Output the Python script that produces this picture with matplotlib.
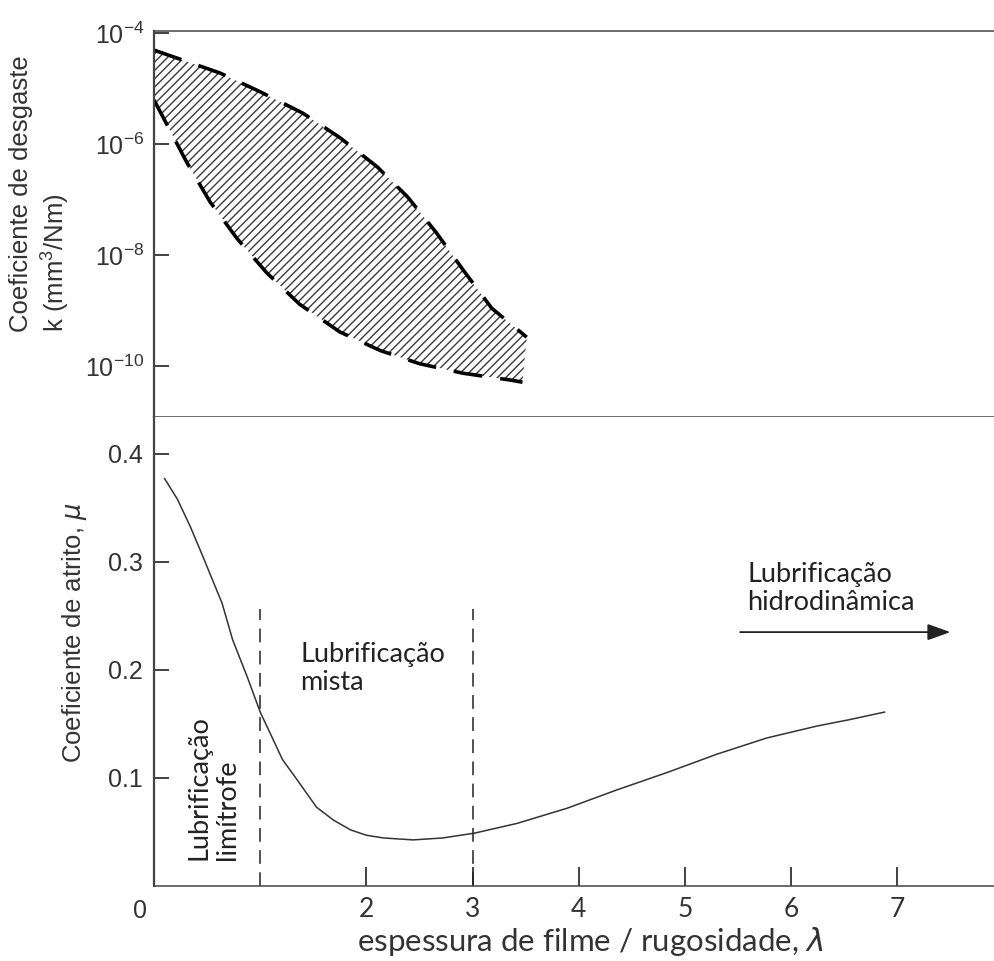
import matplotlib
matplotlib.use("Agg")
import matplotlib.pyplot as plt

# faixa do coeficiente de desgaste (limite superior e inferior)
lam_sup = [0.0, 0.62, 1.0, 1.40, 1.75, 2.10, 2.39, 2.66, 2.91, 3.18, 3.51]
k_sup = [4.9e-5, 1.9e-5, 8.7e-6, 3.6e-6, 1.3e-6, 3.9e-7, 1.1e-7, 2.5e-8, 5.4e-9, 1.1e-9, 3.3e-10]
lam_inf = [0.0, 0.31, 0.53, 0.78, 1.06, 1.37, 1.75, 2.13, 2.50, 2.91, 3.35, 3.47]
k_inf = [6.2e-6, 4.6e-7, 8.9e-8, 2.0e-8, 4.8e-9, 1.3e-9, 4.1e-10, 1.9e-10, 1.1e-10, 7.4e-11, 5.6e-11, 5.1e-11]

# coeficiente de atrito
lam_mu = [0.10, 0.22, 0.34, 0.46, 0.56, 0.64, 0.74, 0.88, 1.0, 1.11, 1.21, 1.35, 1.53, 1.69,
          1.85, 2.0, 2.16, 2.44, 2.72, 3.02, 3.42, 3.89, 4.36, 4.83, 5.30, 5.77, 6.24, 6.55, 6.88]
mu = [0.377, 0.358, 0.333, 0.305, 0.281, 0.262, 0.228, 0.193, 0.161, 0.138, 0.117, 0.098, 0.073,
      0.061, 0.052, 0.047, 0.0445, 0.0427, 0.0445, 0.049, 0.058, 0.072, 0.089, 0.105, 0.122,
      0.137, 0.148, 0.154, 0.161]

limites = [1, 3]
xticks = [2, 3, 4, 5, 6, 7]
yticks_mu = [0.1, 0.2, 0.3, 0.4]
yticks_k = [1e-10, 1e-8, 1e-6, 1e-4]
ytick_k_labels = [r'$\mathregular{10^{-10}}$', r'$\mathregular{10^{-8}}$',
                  r'$\mathregular{10^{-6}}$', r'$\mathregular{10^{-4}}$']

plt.rcParams['font.family'] = ['Liberation Sans', 'DejaVu Sans']
plt.rcParams['mathtext.fontset'] = 'custom'
plt.rcParams['mathtext.rm'] = 'Liberation Sans'
plt.rcParams['hatch.linewidth'] = 1.0

txt = '#333333'
spine_c = '#444444'
calibri = ['Lato', 'DejaVu Sans']

fig = plt.figure(figsize=(9.95, 9.61), dpi=100)
ax1 = fig.add_axes([0.1548, 0.5661, 0.8452, 0.4017])
ax2 = fig.add_axes([0.1548, 0.0780, 0.8452, 0.4880])

# --- painel superior: desgaste
ax1.set_yscale('log')
ax1.fill(lam_sup + lam_inf[::-1], k_sup + k_inf[::-1], facecolor='none',
         edgecolor='#3a3a3a', hatch='////', linewidth=0)
ax1.plot(lam_sup, k_sup, color='black', lw=2.6, dashes=(8, 5))
ax1.plot(lam_inf, k_inf, color='black', lw=2.6, dashes=(8, 5))
ax1.set_xlim(0, 7.92)
ax1.set_ylim(10 ** -10.919, 10 ** -3.964)
ax1.set_yticks(yticks_k)
ax1.set_yticklabels(ytick_k_labels)
ax1.minorticks_off()
ax1.set_xticks([])
ax1.tick_params(axis='y', direction='in', length=11, width=1.3, color='#333333',
                labelsize=18, labelcolor=txt, pad=7)

# --- painel inferior: atrito
ax2.plot(lam_mu, mu, color='#333333', lw=1.1)
for x in limites:
    ax2.plot([x, x], [0, 0.256], color='#222222', lw=1.1, dashes=(9, 5.5))
ax2.set_xlim(0, 7.92)
ax2.set_ylim(0, 0.434)
ax2.set_yticks(yticks_mu)
ax2.set_yticklabels([f'{v:.1f}' for v in yticks_mu])
ax2.set_xticks(xticks)
ax2.set_xticklabels([str(v) for v in xticks], family=calibri)
ax2.tick_params(axis='y', direction='in', length=11, width=1.3, color='#333333',
                labelsize=18, labelcolor=txt, pad=8)
ax2.tick_params(axis='x', direction='in', length=14, width=1.3, color='#333333',
                labelsize=19, labelcolor=txt, pad=8)
ax2.text(-0.13, -0.023, '0', ha='center', va='center', fontsize=18, color=txt,
         clip_on=False)

for ax in (ax1, ax2):
    ax.spines['right'].set_visible(False)
    for s in ('left', 'top', 'bottom'):
        ax.spines[s].set_color(spine_c)
        ax.spines[s].set_linewidth(1.1)
    ax.spines['left'].set_linewidth(1.6)
ax2.spines['top'].set_visible(False)

# textos das regioes
ax2.text(1.375, 0.226, 'Lubrificação\nmista', ha='left', va='top', fontsize=19.5,
         color='#222222', family=calibri, linespacing=1.15)
ax2.text(0.56, 0.024, 'Lubrificação\nlimítrofe', rotation=90, ha='center', va='bottom',
         multialignment='left', fontsize=19.5, color='#222222', family=calibri,
         linespacing=1.2)
ax2.text(5.59, 0.300, 'Lubrificação\nhidrodinâmica', ha='left', va='top', fontsize=19.5,
         color='#222222', family=calibri, linespacing=1.15)
ax2.annotate('', xy=(7.50, 0.235), xytext=(5.52, 0.235),
             arrowprops=dict(arrowstyle='-|>,head_length=0.7,head_width=0.25',
                             color='#222222', lw=1.3, mutation_scale=20,
                             shrinkA=0, shrinkB=0))

# rotulos dos eixos
fig.text(40 / 995, 1 - 194 / 961, 'Coeficiente de desgaste\nk (mm$^3$/Nm)', rotation=90,
         ha='center', va='center', multialignment='left', fontsize=18.5, color=txt,
         linespacing=1.2)
fig.text(75 / 995, 1 - 633 / 961, r'Coeficiente de atrito, $\mu$', rotation=90,
         ha='center', va='center', fontsize=18.5, color=txt)
fig.text(590 / 995, 1 - 942 / 961,
         r'espessura de filme / rugosidade, $\lambda$', ha='center', va='center',
         fontsize=22.5, color=txt, family=calibri)

fig.savefig('out.png', dpi=100)
